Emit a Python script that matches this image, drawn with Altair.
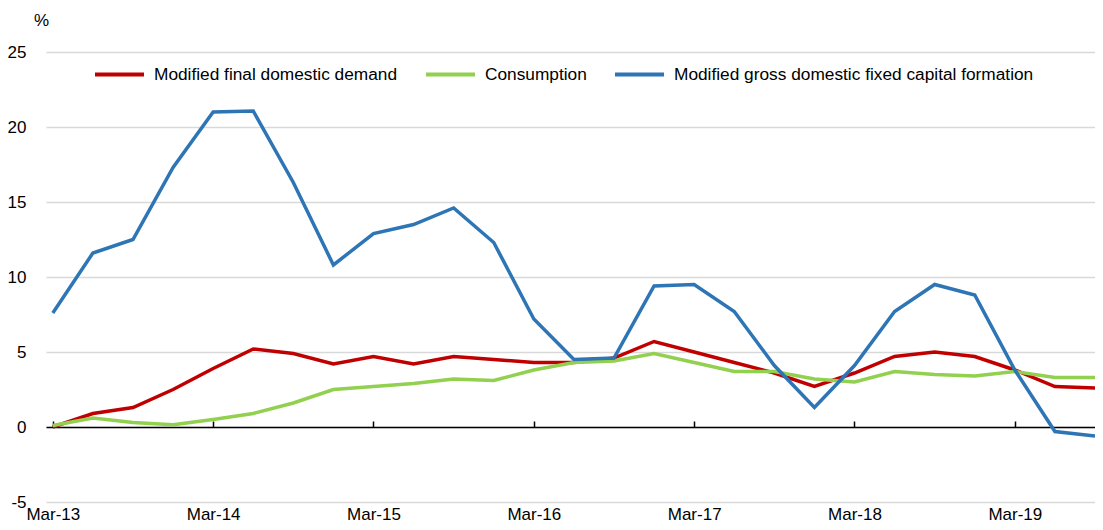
import altair as alt
import pandas as pd

quarters = [
    "Mar-13", "Jun-13", "Sep-13", "Dec-13",
    "Mar-14", "Jun-14", "Sep-14", "Dec-14",
    "Mar-15", "Jun-15", "Sep-15", "Dec-15",
    "Mar-16", "Jun-16", "Sep-16", "Dec-16",
    "Mar-17", "Jun-17", "Sep-17", "Dec-17",
    "Mar-18", "Jun-18", "Sep-18", "Dec-18",
    "Mar-19", "Jun-19", "Sep-19",
]
mfdd = [0.0, 0.9, 1.3, 2.5, 3.9, 5.2, 4.9, 4.2, 4.7, 4.2, 4.7, 4.5, 4.3, 4.3,
        4.6, 5.7, 5.0, 4.3, 3.6, 2.7, 3.6, 4.7, 5.0, 4.7, 3.8, 2.7, 2.6]
consumption = [0.1, 0.6, 0.3, 0.15, 0.5, 0.9, 1.6, 2.5, 2.7, 2.9, 3.2, 3.1, 3.8, 4.3,
               4.4, 4.9, 4.3, 3.7, 3.7, 3.2, 3.0, 3.7, 3.5, 3.4, 3.7, 3.3, 3.3]
mgdfcf = [7.6, 11.6, 12.5, 17.3, 21.0, 21.07, 16.3, 10.8, 12.9, 13.5, 14.6, 12.3, 7.2, 4.5,
          4.6, 9.4, 9.5, 7.7, 4.1, 1.3, 4.1, 7.7, 9.5, 8.8, 3.8, -0.3, -0.6]

series_names = [
    "Modified final domestic demand",
    "Consumption",
    "Modified gross domestic fixed capital formation",
]
series_colors = ["#C00000", "#92D050", "#2E75B6"]
y_ticks = [-5, 0, 5, 10, 15, 20, 25]

rows = []
for k, (name, vals) in enumerate(zip(series_names, [mfdd, consumption, mgdfcf])):
    for i, (q, v) in enumerate(zip(quarters, vals)):
        rows.append({"idx": i, "quarter": q, "series": name, "value": v, "k": k})
df = pd.DataFrame(rows)

year_idx = [i for i, q in enumerate(quarters) if q.startswith("Mar")]
label_expr = "[" + ",".join(f"'{q}'" for q in quarters) + "][datum.value]"

FONT = "Liberation Sans"
xscale = alt.Scale(domain=[-0.17, 26.0], nice=False, zero=False)
yscale = alt.Scale(domain=[-5, 25], nice=False, zero=False)

color = alt.Color(
    "series:N",
    scale=alt.Scale(domain=series_names, range=series_colors),
    legend=alt.Legend(
        title=None, orient="none", direction="horizontal",
        legendX=47, legendY=-4,
        symbolType="stroke", symbolSize=2401, symbolStrokeWidth=4,
        labelFontSize=17.3, labelFont=FONT, labelColor="black",
        labelOffset=8, columnPadding=20, padding=0, labelLimit=600,
    ),
)

x_main = alt.X(
    "idx:Q", scale=xscale,
    axis=alt.Axis(
        orient="bottom",
        values=year_idx, labelExpr=label_expr, domain=False, ticks=False, grid=False,
        title=None, labelFontSize=17, labelFont=FONT, labelColor="black",
        labelPadding=4, labelFlush=False, labelOverlap=False, labelBound=False,
    ),
)
y_main = alt.Y(
    "value:Q", scale=yscale,
    axis=alt.Axis(
        values=y_ticks, labelExpr="'' + datum.value",
        grid=True, gridColor="#d9d9d9", gridWidth=1.5,
        domain=False, ticks=False, labelFontSize=17, labelFont=FONT,
        labelColor="black", labelPadding=20,
        title="%", titleAngle=0, titleX=-5, titleY=-32, titleAlign="center",
        titleBaseline="middle", titleFontSize=17, titleFont=FONT,
        titleFontWeight="normal", titleColor="black",
    ),
)

line_layers = []
for name in series_names:
    line_layers.append(
        alt.Chart(df).transform_filter(alt.datum.series == name)
        .mark_line(strokeWidth=3.5)
        .encode(x=x_main, y=y_main, color=color)
    )
lines = alt.layer(*line_layers)

zero_axis = alt.Chart(df).mark_point(opacity=0).encode(
    x=alt.X(
        "idx:Q", scale=xscale,
        axis=alt.Axis(
            orient="top", offset=-375, values=year_idx, labels=False,
            ticks=True, tickSize=6, tickColor="black", tickWidth=1.5,
            domain=True, domainColor="black", domainWidth=1.5,
            grid=False, title=None,
        ),
    )
)

chart = (
    alt.layer(zero_axis, lines)
    .resolve_axis(x="independent")
    .properties(
        width=1049, height=450,
        autosize=alt.AutoSizeParams(type="none"),
        padding={"left": 38, "top": 44, "right": 0, "bottom": 20},
    )
    .configure_view(stroke=None)
)

chart.save("out.html", embed_options={"renderer": "svg", "actions": False})
